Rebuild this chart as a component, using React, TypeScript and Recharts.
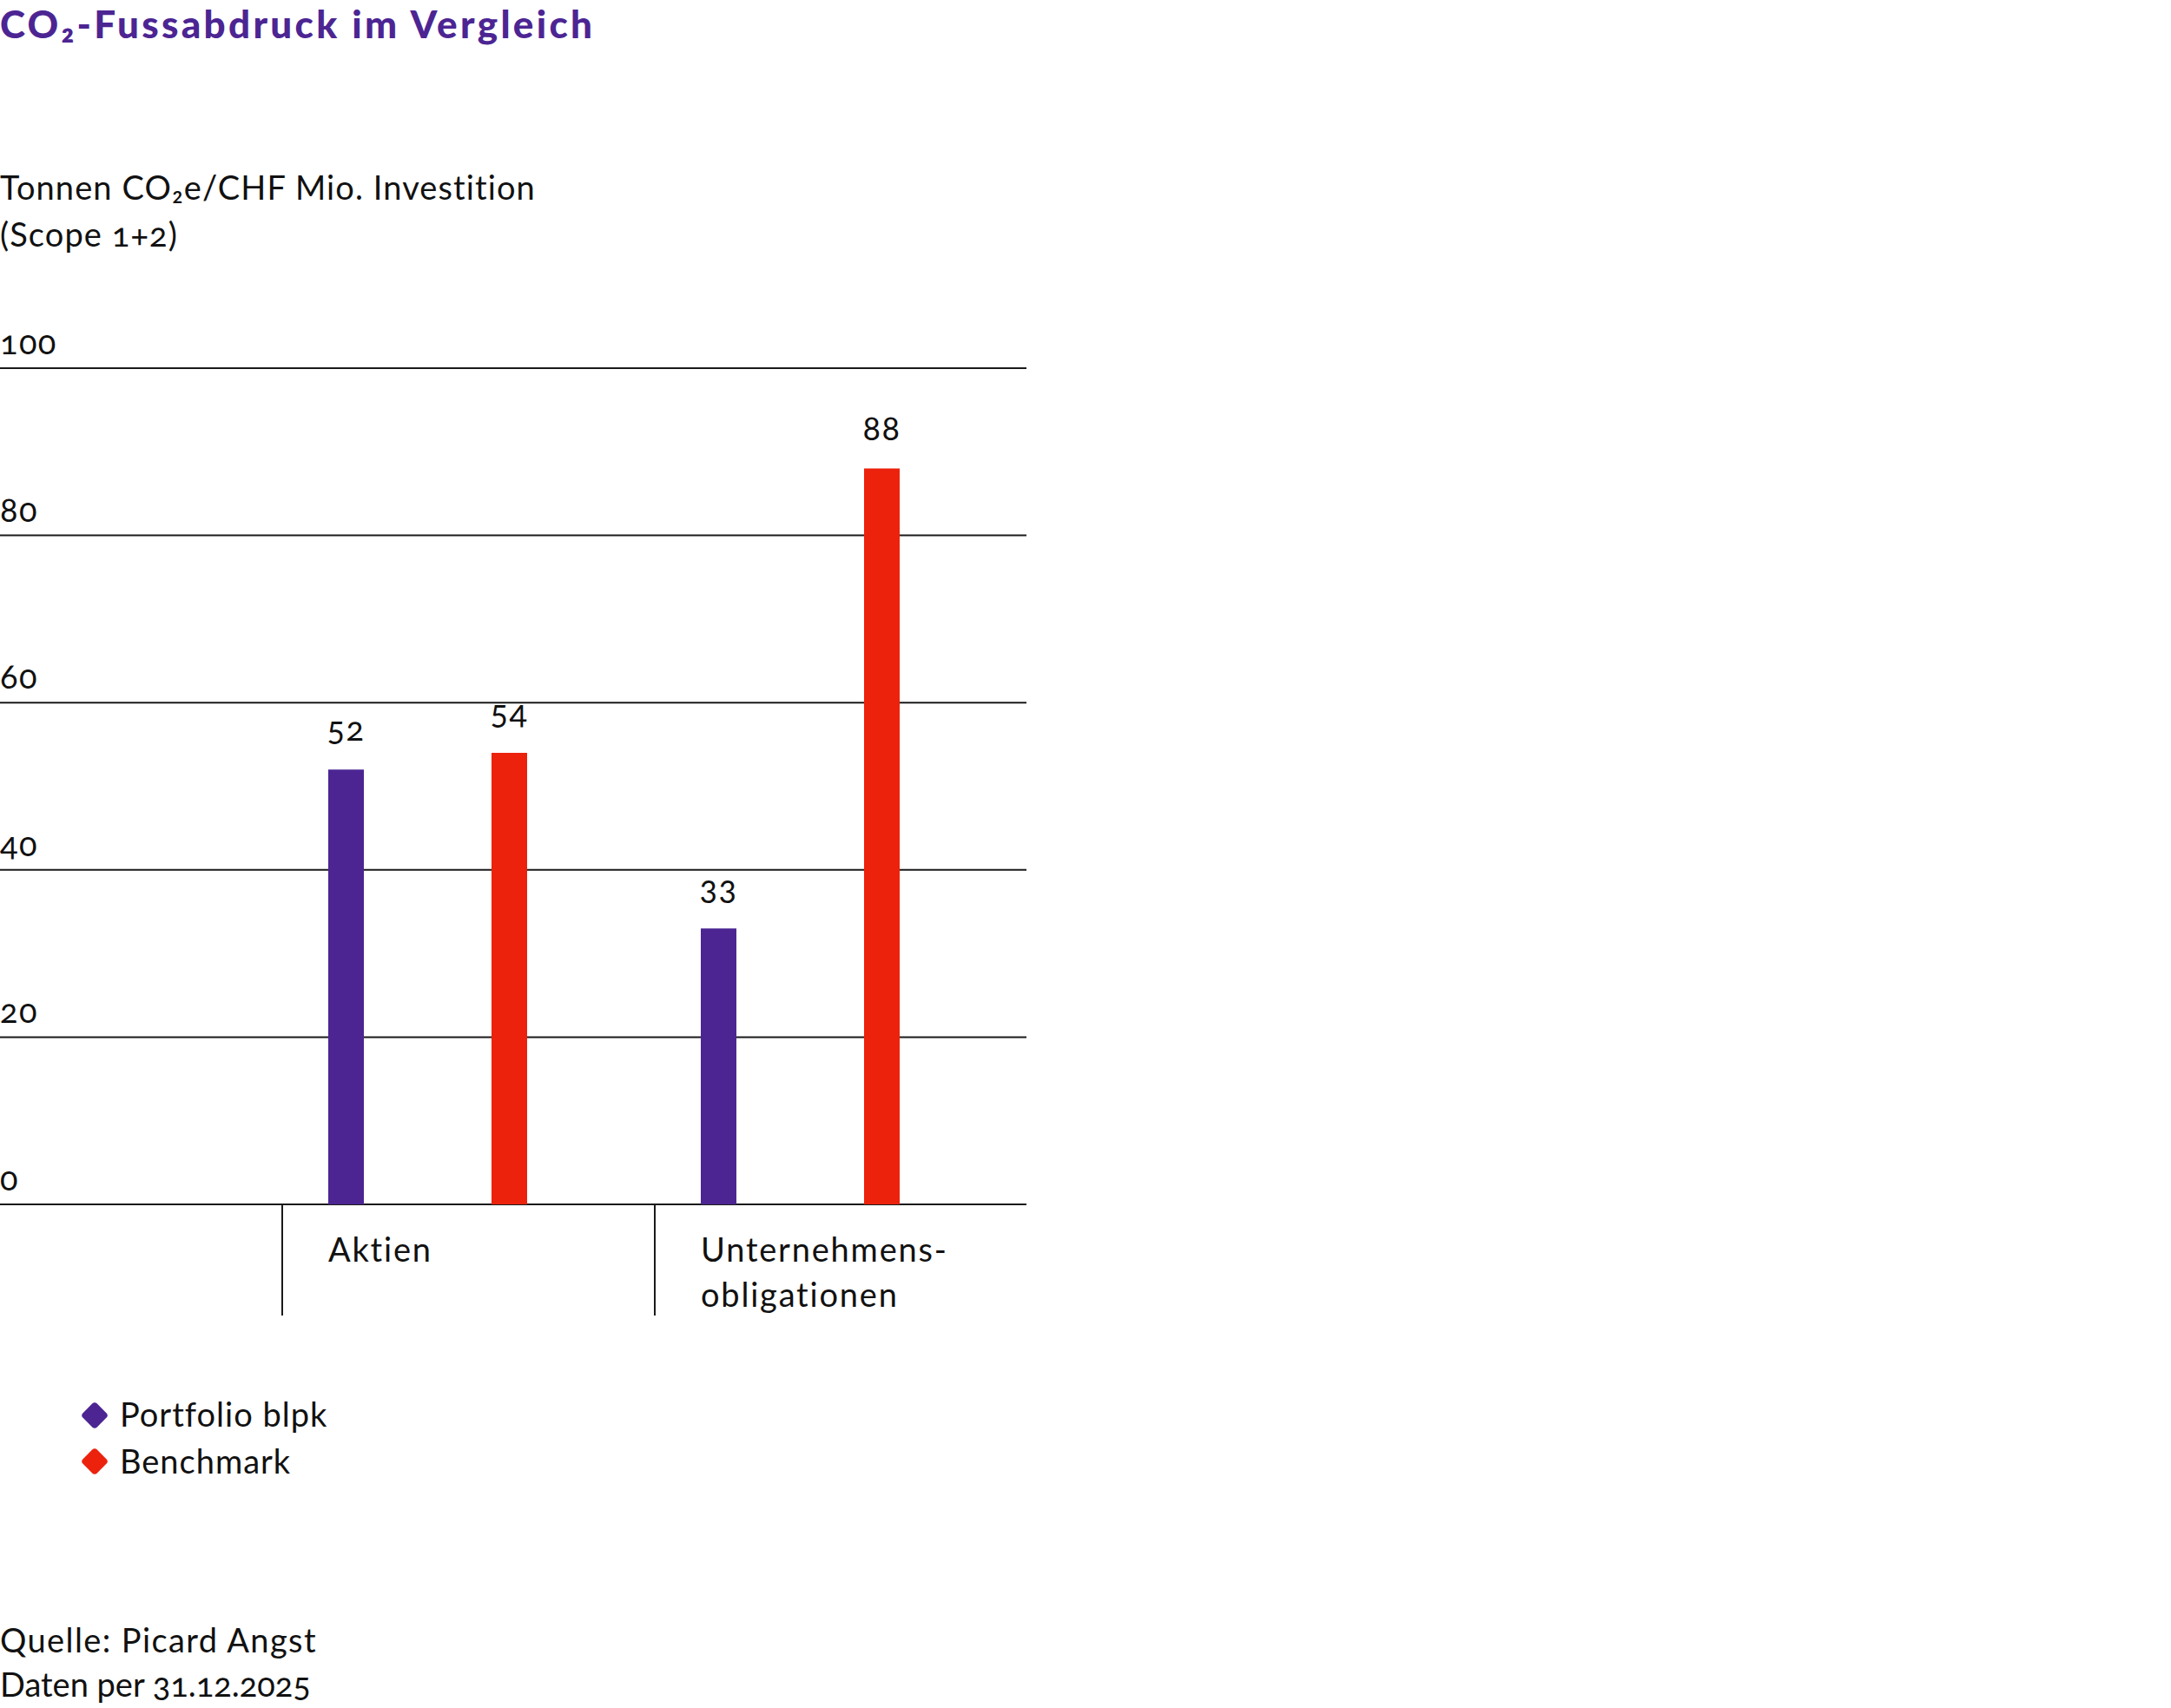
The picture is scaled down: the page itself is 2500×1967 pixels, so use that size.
import React from 'react';
import { BarChart, Bar, XAxis, YAxis, CartesianGrid, LabelList } from 'recharts';

// chart data
const categories = ['Aktien', 'Unternehmens-\nobligationen'];
const portfolioValues = [52, 33];
const benchmarkValues = [54, 88];
const yTicks = [0, 20, 40, 60, 80, 100];
const seriesNames = ['Portfolio blpk', 'Benchmark'];
const seriesColors = ['#4C2593', '#EC220D'];

const data = categories.map((category, i) => ({
  category,
  portfolio: portfolioValues[i],
  benchmark: benchmarkValues[i],
}));

const FONT = 'Lato, "Open Sans", sans-serif';
const TEXT = '#111';
const LINE = '#1a1a1a';
const GRID_RIGHT = 1182;
const SPACING = 1.4;
const numStyle = { fontVariantNumeric: 'oldstyle-nums' } as React.CSSProperties;

const YTick = (props: any) => (
  <text x={0} y={props.y - 16} fontSize={38} fontFamily={FONT} fill={TEXT} letterSpacing={SPACING} style={numStyle}>
    {props.payload.value}
  </text>
);

const CategoryTick = (props: any) => {
  const half = props.payload.offset ?? 214.5;
  const start = props.x - half;
  const lines = String(props.payload.value).split('\n');
  return (
    <g>
      <line x1={start + 47} x2={start + 47} y1={props.y} y2={props.y + 128} stroke={LINE} strokeWidth={2} />
      {lines.map((line, i) => (
        <text
          key={i}
          x={start + 100}
          y={props.y + 66 + i * 52}
          fontSize={38}
          fontFamily={FONT}
          fill={TEXT}
          letterSpacing={1.8}
        >
          {line}
        </text>
      ))}
    </g>
  );
};

const ValueLabel = (props: any) => (
  <text
    x={props.x + props.width / 2}
    y={props.y - 33}
    textAnchor="middle"
    fontSize={38}
    fontFamily={FONT}
    fill={TEXT}
    letterSpacing={SPACING}
    style={numStyle}
  >
    {props.value}
  </text>
);

const gridLine = (props: any) => (
  <line key={props.key} x1={0} x2={GRID_RIGHT} y1={props.y1} y2={props.y2} stroke={LINE} strokeWidth={2} />
);

export default function App() {
  return (
    <div style={{ position: 'absolute', left: 0, top: 0, width: 2500, height: 1967, background: '#fff' }}>
      <div style={{ position: 'absolute', left: 0, top: 0 }}>
        <BarChart
          width={1250}
          height={1560}
          data={data}
          margin={{ top: 424, right: 114, bottom: 0, left: 0 }}
          barGap={147}
        >
          <CartesianGrid vertical={false} horizontal={gridLine} />
          <XAxis
            dataKey="category"
            axisLine={false}
            tickLine={false}
            tickSize={0}
            tickMargin={0}
            height={173}
            interval={0}
            tick={<CategoryTick />}
          />
          <YAxis
            domain={[0, 100]}
            ticks={yTicks}
            width={278}
            axisLine={false}
            tickLine={false}
            tick={<YTick />}
          />
          <Bar dataKey="portfolio" name={seriesNames[0]} fill={seriesColors[0]} barSize={41} isAnimationActive={false}>
            <LabelList dataKey="portfolio" content={<ValueLabel />} />
          </Bar>
          <Bar dataKey="benchmark" name={seriesNames[1]} fill={seriesColors[1]} barSize={41} isAnimationActive={false}>
            <LabelList dataKey="benchmark" content={<ValueLabel />} />
          </Bar>
        </BarChart>
      </div>
      <svg
        width={2500}
        height={1967}
        style={{ position: 'absolute', left: 0, top: 0, pointerEvents: 'none' }}
        fontFamily={FONT}
      >
        <text x={0} y={44} fontSize={44} fontWeight={900} fill="#4C2593" letterSpacing={3.3}>
          CO₂-Fussabdruck im Vergleich
        </text>
        <text x={0} y={230} fontSize={38} fill={TEXT} letterSpacing={1.1} style={numStyle}>
          Tonnen CO₂e/CHF Mio. Investition
        </text>
        <text x={0} y={284} fontSize={38} fill={TEXT} letterSpacing={1.1} style={numStyle}>
          (Scope 1+2)
        </text>
        {seriesNames.map((name, i) => (
          <g key={name}>
            <rect
              x={109 - 11.5}
              y={1630 + i * 53 - 11.5}
              width={23}
              height={23}
              rx={4}
              fill={seriesColors[i]}
              transform={`rotate(45 109 ${1630 + i * 53})`}
            />
            <text x={138} y={1643 + i * 54} fontSize={38} fill={TEXT} letterSpacing={1}>
              {name}
            </text>
          </g>
        ))}
        <text x={0} y={1903} fontSize={38} fill={TEXT} letterSpacing={SPACING} style={numStyle}>
          Quelle: Picard Angst
        </text>
        <text x={0} y={1954} fontSize={38} fill={TEXT} letterSpacing={0} style={numStyle}>
          Daten per 31.12.2025
        </text>
      </svg>
    </div>
  );
}
